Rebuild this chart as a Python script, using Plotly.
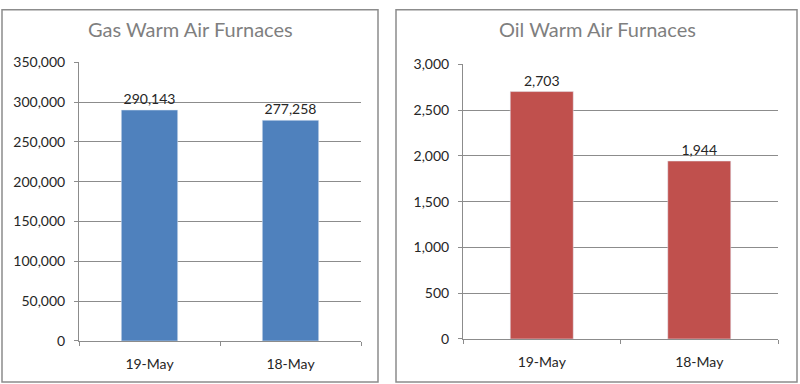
import plotly.graph_objects as go

categories = ["19-May", "18-May"]
gas_values = [290143, 277258]
oil_values = [2703, 1944]
gas_title = "Gas Warm Air Furnaces"
oil_title = "Oil Warm Air Furnaces"
gas_ticks = [0, 50000, 100000, 150000, 200000, 250000, 300000, 350000]
oil_ticks = [0, 500, 1000, 1500, 2000, 2500, 3000]

W = 800
FIG_H = 400
# observed vertical mapping of the capture: screen_y = OFF + SC * figure_y
OFF, SC = 8.9, 0.955
FONT = "Lato"
GRID = "#8c8c8c"
TXT = "#262626"

def px(x):
    return x / W

def py(y_screen):
    yf = max((y_screen - OFF) / SC, 0.75)
    return 1 - yf / FIG_H

fig = go.Figure()
fig.add_trace(go.Bar(
    x=categories, y=gas_values, marker_color="#4F81BD", xaxis="x", yaxis="y",
    text=[f"{v:,}" for v in gas_values], textposition="outside",
    textfont=dict(family=FONT, size=14, color=TXT), cliponaxis=False,
))
fig.add_trace(go.Bar(
    x=categories, y=oil_values, marker_color="#C0504D", xaxis="x2", yaxis="y2",
    text=[f"{v:,}" for v in oil_values], textposition="outside",
    textfont=dict(family=FONT, size=14, color=TXT), cliponaxis=False,
))

xcommon = dict(type="category", showline=True, linecolor=GRID, linewidth=1,
               ticks="outside", tickson="boundaries", ticklen=4, tickcolor=GRID,
               showgrid=False, tickfont=dict(family=FONT, size=14, color=TXT),
               ticklabelstandoff=10)
ycommon = dict(showline=True, linecolor=GRID, linewidth=1, ticks="outside",
               ticklen=4, tickcolor=GRID, showgrid=True, gridcolor=GRID,
               gridwidth=1, zeroline=False, tickformat=",d",
               tickfont=dict(family=FONT, size=14, color=TXT),
               ticklabelstandoff=6)

fig.update_layout(
    width=W, height=FIG_H, margin=dict(l=0, r=0, t=0, b=0),
    paper_bgcolor="white", plot_bgcolor="white", showlegend=False,
    bargap=0.6,
    xaxis=dict(domain=[px(79), px(361)], anchor="y", **xcommon),
    yaxis=dict(domain=[py(340), py(62)], anchor="x", range=[0, 350000 * 1.0005],
               tickvals=gas_ticks, **ycommon),
    xaxis2=dict(domain=[px(463), px(778)], anchor="y2", **xcommon),
    yaxis2=dict(domain=[py(338), py(64)], anchor="x2", range=[0, 3000 * 1.0005],
                tickvals=oil_ticks, **ycommon),
    annotations=[
        dict(text=gas_title, x=px(190), y=py(29), xref="paper", yref="paper",
             xanchor="center", yanchor="middle",
             showarrow=False, font=dict(family=FONT, size=20, color="#7f7f7f")),
        dict(text=oil_title, x=px(597), y=py(29), xref="paper", yref="paper",
             xanchor="center", yanchor="middle",
             showarrow=False, font=dict(family=FONT, size=20, color="#7f7f7f")),
    ],
    shapes=[
        dict(type="rect", xref="paper", yref="paper", x0=px(2), x1=px(378),
             y0=py(381), y1=py(2), line=dict(color="#8c8c8c", width=1.5)),
        dict(type="rect", xref="paper", yref="paper", x0=px(396), x1=px(797),
             y0=py(381), y1=py(4), line=dict(color="#8c8c8c", width=1.5)),
    ],
)

post = (
    "document.documentElement.style.margin='0';"
    "document.documentElement.style.padding='0';"
    "document.body.style.margin='0';"
    "document.body.style.padding='0';"
)

fig.write_html("out.html", config={"displayModeBar": False}, post_script=post)
